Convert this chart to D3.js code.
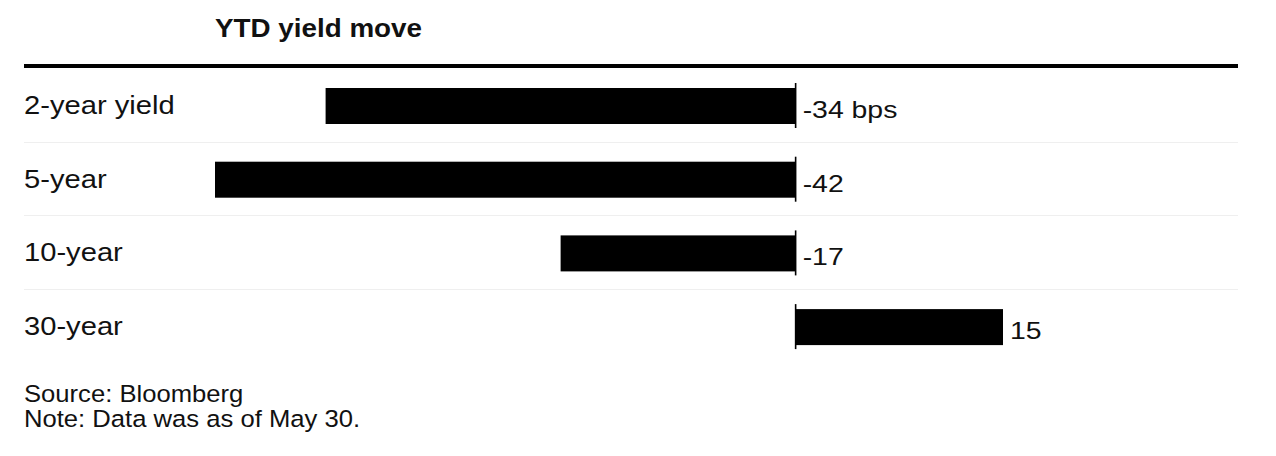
<!DOCTYPE html>
<html><head><meta charset="utf-8">
<script src="https://cdn.jsdelivr.net/npm/d3@7"></script>
<style>
html,body{margin:0;padding:0;background:#fff;}
svg{display:block;font-family:"Liberation Sans",Arial,Helvetica,sans-serif;}
</style></head>
<body>
<svg id="chart" width="1276" height="456"></svg>
<script>
const title = "YTD yield move";
const categories = ["2-year yield", "5-year", "10-year", "30-year"];
const values = [-34, -42, -17, 15];
const valueLabels = ["-34 bps", "-42", "-17", "15"];
const footnotes = ["Source: Bloomberg", "Note: Data was as of May 30."];

const svg = d3.select("#chart");
const ink = "#111";

const x = d3.scaleLinear().domain([-42, 15]).range([215, 1003]);
// row bands (separator to separator)
const row = d3.scaleBand().domain(categories).range([68, 362.8]);
const step = row.step();
const barTop = 20, barH = 36;

function stext(sel, px, py, str, size, sx, weight) {
  const g = sel.append("g").attr("transform", `translate(${px},${py}) scale(${sx},1)`);
  g.append("text").attr("x", 0).attr("y", 0)
    .attr("font-size", size).attr("font-weight", weight || "normal")
    .attr("fill", ink).text(str);
  return g;
}

// title
stext(svg, 215, 36.7, title, 26, 1.07, "bold");

// top rule
svg.append("line").attr("x1", 24).attr("x2", 1238).attr("y1", 66).attr("y2", 66)
  .attr("stroke", "#000").attr("stroke-width", 4);

// row separators
categories.slice(1).forEach(c => {
  const yy = Math.round(row(c)) + 0.5;
  svg.append("line").attr("x1", 24).attr("x2", 1238).attr("y1", yy).attr("y2", yy)
    .attr("stroke", "#efefef").attr("stroke-width", 1);
});

// bars
svg.selectAll("rect.bar").data(values).enter().append("rect")
  .attr("class", "bar")
  .attr("x", d => Math.min(x(0), x(d)))
  .attr("width", d => Math.abs(x(d) - x(0)))
  .attr("y", (d, i) => row(categories[i]) + barTop)
  .attr("height", barH)
  .attr("fill", "#000");

// zero tick per row
categories.forEach(c => {
  svg.append("line").attr("x1", x(0)).attr("x2", x(0))
    .attr("y1", row(c) + barTop - 5).attr("y2", row(c) + barTop + barH + 4)
    .attr("stroke", "#000").attr("stroke-width", 1.6);
});

// category labels
categories.forEach(c => {
  stext(svg, 24, row(c) + 46, c, 26.5, 1.1);
});

// value labels
values.forEach((v, i) => {
  const px = v < 0 ? x(0) + 7 : x(v) + 7;
  stext(svg, px, row(categories[i]) + 50, valueLabels[i], 24.5, 1.16);
});

// footnotes
footnotes.forEach((f, i) => {
  stext(svg, 24, 401.5 + i * 25, f, 23.3, 1.1);
});
</script>
</body></html>
